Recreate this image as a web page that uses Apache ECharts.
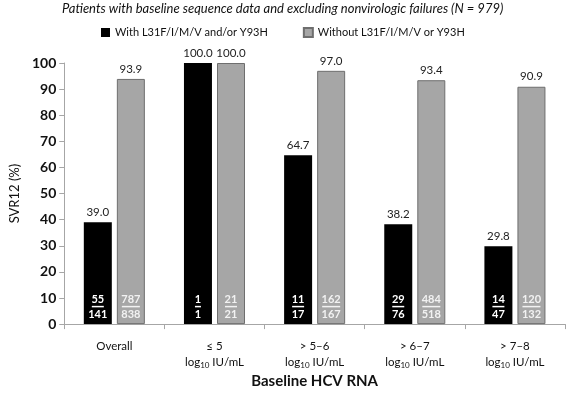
<!DOCTYPE html>
<html>
<head>
<meta charset="utf-8">
<script src="https://cdn.jsdelivr.net/npm/echarts@6/dist/echarts.min.js"></script>
<style>
  html, body { margin: 0; padding: 0; background: #fff; }
  #chart { width: 567px; height: 394px; }
</style>
</head>
<body>
<div id="chart"></div>
<script>
// categories (second line "log10 IU/mL" added by the label formatter)
const categories = ['Overall', '≤ 5', '> 5–6', '> 6–7', '> 7–8'];

// SVR12 (%)
const withPct = [39.0, 100.0, 64.7, 38.2, 29.8];
const withoutPct = [93.9, 100.0, 97.0, 93.4, 90.9];

// responders / patients
const withNum = [55, 1, 11, 29, 14];
const withDen = [141, 1, 17, 76, 47];
const withoutNum = [787, 21, 162, 484, 120];
const withoutDen = [838, 21, 167, 518, 132];

const yTicks = [0, 10, 20, 30, 40, 50, 60, 70, 80, 90, 100];

const FONT = 'Lato, "Liberation Sans", sans-serif';
const NAME_WITH = 'With L31F/I/M/V and/or Y93H';
const NAME_WITHOUT = 'Without L31F/I/M/V or Y93H';

const chart = echarts.init(document.getElementById('chart'), null, { renderer: 'canvas' });

/* fraction label: numerator, underline, denominator */
function fracLabel(nums, dens) {
  return (p) => {
    const n = String(nums[p.dataIndex]);
    return `{n|${n}}\n{u${n.length}| }\n{d|${dens[p.dataIndex]}}`;
  };
}

function fracRich(color) {
  return {
    n: { color, fontSize: 11, fontWeight: 'bold', fontFamily: FONT, lineHeight: 11 },
    d: { color, fontSize: 11, fontWeight: 'bold', fontFamily: FONT, lineHeight: 12 },
    u1: { width: 6, height: 1.5, lineHeight: 3, fontSize: 1, backgroundColor: color },
    u2: { width: 12, height: 1.5, lineHeight: 3, fontSize: 1, backgroundColor: color },
    u3: { width: 18, height: 1.5, lineHeight: 3, fontSize: 1, backgroundColor: color },
  };
}

const valueLabel = (vals) => ({
  show: true,
  position: 'top',
  distance: 4,
  color: '#222',
  fontSize: 11.5,
  fontFamily: FONT,
  formatter: (p) => vals[p.dataIndex].toFixed(1),
});

const option = {
  animation: false,
  backgroundColor: '#fff',
  textStyle: { fontFamily: FONT },
  graphic: [{
    type: 'text',
    left: 62,
    top: 2,
    style: {
      text: 'Patients with baseline sequence data and excluding nonvirologic failures (N = 979)',
      fontSize: 13,
      fontStyle: 'italic',
      fontFamily: FONT,
      fill: '#111',
    },
  }],
  legend: {
    data: [NAME_WITH, NAME_WITHOUT],
    left: 96,
    top: 22,
    icon: 'rect',
    itemWidth: 9,
    itemHeight: 9,
    itemGap: 35,
    textStyle: { fontSize: 11, color: '#111', fontFamily: FONT },
  },
  grid: { left: 53, right: 2, top: 63, bottom: 60 },
  xAxis: {
    type: 'category',
    data: categories,
    name: 'Baseline HCV RNA',
    nameLocation: 'middle',
    nameGap: 40,
    nameTextStyle: { fontSize: 15, fontWeight: 'bold', color: '#111', fontFamily: FONT },
    axisLine: { lineStyle: { color: '#a6a6a6' } },
    axisTick: { show: true, length: 5, lineStyle: { color: '#a6a6a6' } },
    axisLabel: {
      margin: 14,
      interval: 0,
      formatter: (v, i) => i === 0 ? `{a|${v}}` : `{a|${v}}\n{a|log}{s|10}{a| IU/mL}`,
      rich: {
        a: { fontSize: 11.5, color: '#111', fontFamily: FONT, lineHeight: 16 },
        s: { fontSize: 8, color: '#111', fontFamily: FONT, lineHeight: 16, padding: [6, 0, 0, 0] },
      },
    },
  },
  yAxis: {
    type: 'value',
    min: yTicks[0],
    max: yTicks[yTicks.length - 1],
    interval: 10,
    name: 'SVR12 (%)',
    nameLocation: 'middle',
    nameGap: 41,
    nameRotate: 90,
    nameTextStyle: { fontSize: 13, color: '#111', fontFamily: FONT },
    splitLine: { show: false },
    axisLine: { show: true, lineStyle: { color: '#a6a6a6' } },
    axisTick: { show: true, length: 5, lineStyle: { color: '#a6a6a6' } },
    axisLabel: { fontSize: 14, fontWeight: 'bold', color: '#111', margin: 8, fontFamily: FONT },
  },
  series: [
    {
      name: NAME_WITH,
      type: 'bar',
      stack: 'with',
      data: withPct,
      barWidth: 28,
      barGap: '18%',
      itemStyle: { color: '#000' },
      label: {
        show: true,
        position: 'insideBottom',
        distance: 4,
        formatter: fracLabel(withNum, withDen),
        rich: fracRich('#fff'),
      },
    },
    {
      name: 'withTop',
      type: 'bar',
      stack: 'with',
      data: withPct.map(() => 0),
      barWidth: 28,
      itemStyle: { color: 'transparent' },
      label: valueLabel(withPct),
    },
    {
      name: NAME_WITHOUT,
      type: 'bar',
      stack: 'without',
      data: withoutPct,
      barWidth: 28,
      barGap: '18%',
      itemStyle: { color: '#a6a6a6', borderColor: '#6e6e6e', borderWidth: 1 },
      label: {
        show: true,
        position: 'insideBottom',
        distance: 4,
        formatter: fracLabel(withoutNum, withoutDen),
        rich: fracRich('#f2f2f2'),
      },
    },
    {
      name: 'withoutTop',
      type: 'bar',
      stack: 'without',
      data: withoutPct.map(() => 0),
      barWidth: 28,
      itemStyle: { color: 'transparent' },
      label: valueLabel(withoutPct),
    },
  ],
};

chart.setOption(option);
</script>
</body>
</html>
